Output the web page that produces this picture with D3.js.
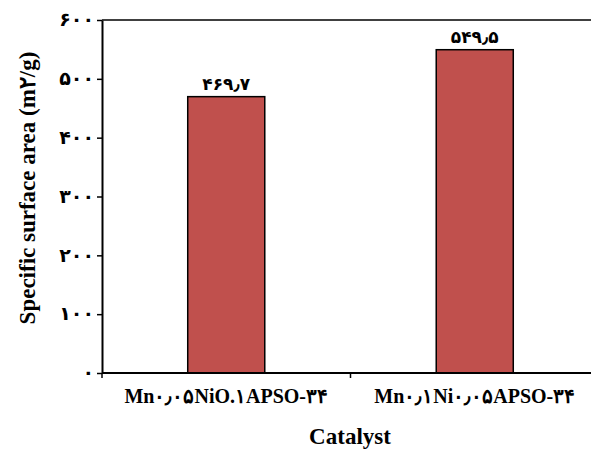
<!DOCTYPE html>
<html><head><meta charset="utf-8">
<script src="https://cdn.jsdelivr.net/npm/d3@7"></script>
<style>body{margin:0;background:#fff}svg{display:block}</style>
</head><body>
<script>
const categories = ["Mn۰٫۰۵NiO.۱APSO-۳۴", "Mn۰٫۱Ni۰٫۰۵APSO-۳۴"];
const values = [469.7, 549.5];
const valueLabels = ["۴۶۹٫۷", "۵۴۹٫۵"];
const yTicks = [0, 100, 200, 300, 400, 500, 600];
const yTickLabels = ["۰", "۱۰۰", "۲۰۰", "۳۰۰", "۴۰۰", "۵۰۰", "۶۰۰"];
const xTitle = "Catalyst";
const yTitle = "Specific surface area (m۲/g)";

const W = 591, H = 450;
const m = {left: 102, top: 20, right: -8, bottom: 77};
const svg = d3.select("body").append("svg").attr("width", W).attr("height", H);
const serif = "'Liberation Serif','Times New Roman',serif";

const x = d3.scaleBand().domain(categories).range([m.left, W - m.right]).paddingInner(0.69).paddingOuter(0.345);
const xb = d3.scaleBand().domain(categories).range([m.left, W - m.right]);
const y = d3.scaleLinear().domain([0, 600]).range([H - m.bottom, m.top]);

svg.append("line").attr("x1", m.left).attr("x2", W - m.right).attr("y1", y(600)).attr("y2", y(600))
  .attr("stroke", "#000").attr("stroke-width", 1.5);

svg.selectAll("rect.bar").data(values).join("rect").attr("class", "bar")
  .attr("x", (d, i) => x(categories[i])).attr("width", x.bandwidth())
  .attr("y", d => y(d)).attr("height", d => y(0) - y(d))
  .attr("fill", "#C0504D").attr("stroke", "#000").attr("stroke-width", 1.5);

svg.selectAll("text.vl").data(values).join("text").attr("class", "vl")
  .attr("x", (d, i) => x(categories[i]) + x.bandwidth() / 2).attr("y", d => y(d) - 7)
  .attr("text-anchor", "middle").attr("font-family", "'DejaVu Sans',sans-serif").attr("font-weight", "bold")
  .attr("font-size", 17).text((d, i) => valueLabels[i]);

const ya = svg.append("g").attr("transform", `translate(${m.left},0)`)
  .call(d3.axisLeft(y).tickValues(yTicks).tickSize(5).tickSizeOuter(0).tickFormat((d, i) => yTickLabels[i]));
ya.select(".domain").attr("stroke", "#000").attr("stroke-width", 2);
ya.selectAll(".tick line").attr("stroke", "#000").attr("stroke-width", 1.5);
ya.selectAll(".tick text").attr("font-family", "'DejaVu Sans',sans-serif").attr("font-weight", "bold")
  .attr("font-size", 19).attr("fill", "#000").attr("x", -8).attr("dy", "0.3em");

svg.append("line").attr("x1", m.left).attr("x2", W - m.right).attr("y1", y(0)).attr("y2", y(0))
  .attr("stroke", "#000").attr("stroke-width", 2);
const bounds = categories.map(c => xb(c));
svg.selectAll("line.xt").data(bounds).join("line").attr("class", "xt")
  .attr("x1", d => d).attr("x2", d => d).attr("y1", y(0)).attr("y2", y(0) + 5)
  .attr("stroke", "#000").attr("stroke-width", 1.5);

const xa = svg.append("g").attr("transform", `translate(0,${y(0)})`)
  .call(d3.axisBottom(xb).tickSize(0).tickPadding(16));
xa.select(".domain").remove();
xa.selectAll(".tick text").attr("font-family", serif).attr("font-weight", "bold")
  .attr("font-size", 20).attr("fill", "#000");

svg.append("text").attr("x", 350).attr("y", 444).attr("text-anchor", "middle")
  .attr("font-family", serif).attr("font-weight", "bold").attr("font-size", 23).text(xTitle);
svg.append("text").attr("transform", `translate(35,${188}) rotate(-90)`).attr("text-anchor", "middle")
  .attr("font-family", serif).attr("font-weight", "bold").attr("font-size", 23).text(yTitle);
</script>
</body></html>
